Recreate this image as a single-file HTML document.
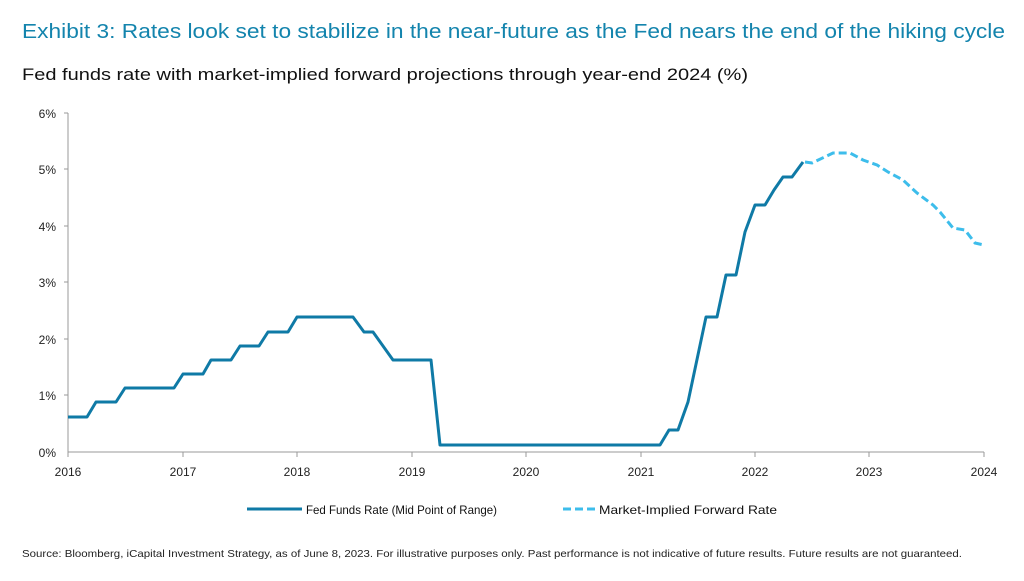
<!DOCTYPE html>
<html><head><meta charset="utf-8"><style>
body{margin:0;background:#fff;width:1024px;height:576px;overflow:hidden;font-family:"Liberation Sans",sans-serif}
</style></head><body>
<svg width="1024" height="576" xmlns="http://www.w3.org/2000/svg" font-family="Liberation Sans, sans-serif">
<text x="22" y="38" font-size="20" fill="#1384ad" textLength="983" lengthAdjust="spacingAndGlyphs">Exhibit 3: Rates look set to stabilize in the near-future as the Fed nears the end of the hiking cycle</text>
<text x="22" y="80" font-size="17" fill="#111" textLength="726" lengthAdjust="spacingAndGlyphs">Fed funds rate with market-implied forward projections through year-end 2024 (%)</text>
<g font-size="12" fill="#222" text-anchor="end">
<text x="56" y="118">6%</text><text x="56" y="174">5%</text><text x="56" y="231">4%</text><text x="56" y="287">3%</text><text x="56" y="344">2%</text><text x="56" y="400">1%</text><text x="56" y="457">0%</text>
</g>
<g stroke="#999" stroke-width="1">
<line x1="68" y1="113" x2="68" y2="452"/><line x1="68" y1="452" x2="984" y2="452"/>
<line x1="64" y1="113" x2="68" y2="113"/><line x1="64" y1="169" x2="68" y2="169"/><line x1="64" y1="226" x2="68" y2="226"/><line x1="64" y1="282" x2="68" y2="282"/><line x1="64" y1="339" x2="68" y2="339"/><line x1="64" y1="395" x2="68" y2="395"/>
<line x1="68" y1="452" x2="68" y2="457"/><line x1="183" y1="452" x2="183" y2="457"/><line x1="297" y1="452" x2="297" y2="457"/><line x1="412" y1="452" x2="412" y2="457"/><line x1="526" y1="452" x2="526" y2="457"/><line x1="641" y1="452" x2="641" y2="457"/><line x1="755" y1="452" x2="755" y2="457"/><line x1="869" y1="452" x2="869" y2="457"/><line x1="984" y1="452" x2="984" y2="457"/>
</g>
<g font-size="12" fill="#222" text-anchor="middle">
<text x="68" y="476">2016</text><text x="183" y="476">2017</text><text x="297" y="476">2018</text><text x="412" y="476">2019</text><text x="526" y="476">2020</text><text x="641" y="476">2021</text><text x="755" y="476">2022</text><text x="869" y="476">2023</text><text x="984" y="476">2024</text>
</g>
<polyline fill="none" stroke="#0f7aa6" stroke-width="3" stroke-linejoin="round" points="68,417 87,417 96,402 116,402 125,388 174,388 183,374 203,374 211,360 231,360 240,346 259,346 268,332 288,332 297,317 353,317 364,332 373,332 393,360 431,360 440,445 660,445 669,430 678,430 688,402 706,317 717,317 726,275 736,275 745,232 755,205 765,205 774,190 783,177 792,177 803,162"/>
<polyline fill="none" stroke="#3dbdeb" stroke-width="3" stroke-dasharray="8,4" points="805,162 812,163 833,153 850,153 863,160 877,165 888,172 903,180 917,193 933,205 940,212 953,228 965,230 975,243 984,245"/>
<line x1="247" y1="509" x2="302" y2="509" stroke="#0f7aa6" stroke-width="3"/>
<text x="306" y="514" font-size="12" fill="#111" textLength="191" lengthAdjust="spacingAndGlyphs">Fed Funds Rate (Mid Point of Range)</text>
<line x1="563" y1="509" x2="595" y2="509" stroke="#3dbdeb" stroke-width="3" stroke-dasharray="8,4"/>
<text x="599" y="514" font-size="12" fill="#111" textLength="178" lengthAdjust="spacingAndGlyphs">Market-Implied Forward Rate</text>
<text x="22" y="557" font-size="10.5" fill="#222" textLength="940" lengthAdjust="spacingAndGlyphs">Source: Bloomberg, iCapital Investment Strategy, as of June 8, 2023. For illustrative purposes only. Past performance is not indicative of future results. Future results are not guaranteed.</text>
</svg>
</body></html>
